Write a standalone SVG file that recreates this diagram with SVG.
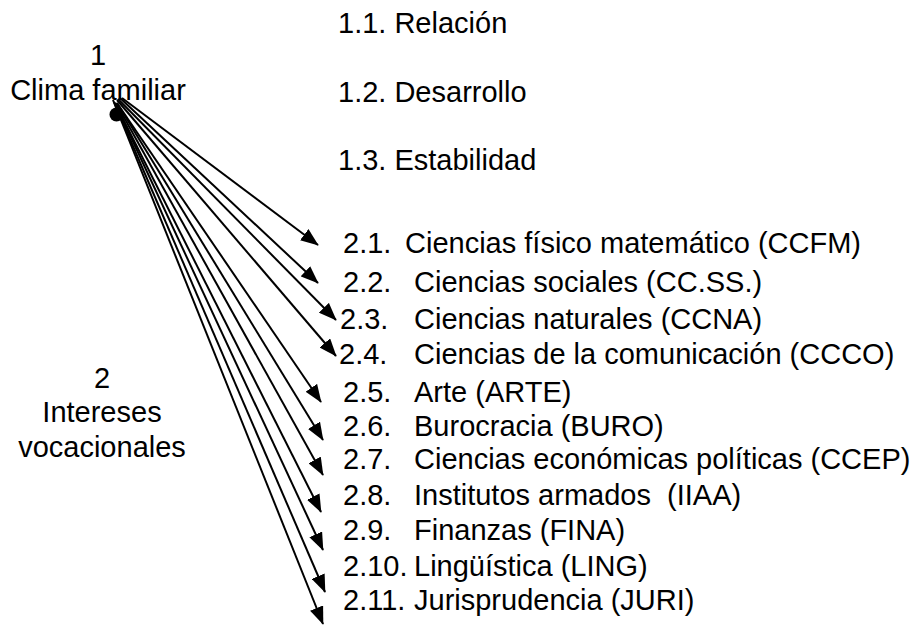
<svg xmlns="http://www.w3.org/2000/svg" width="923" height="626" viewBox="0 0 923 626">
<defs>
<style>
text{font-family:"Liberation Sans",Arial,sans-serif;font-size:29px;fill:#000;white-space:pre}
.c{text-anchor:middle}
.con line{stroke:#000;stroke-width:2;marker-end:url(#ah)}
</style>
<marker id="ah" viewBox="0 0 9 7" refX="8.6" refY="3.5" markerWidth="9" markerHeight="7" orient="auto" markerUnits="strokeWidth">
<path d="M0,0 L9,3.5 L0,7 z" fill="#000"/>
</marker>
</defs>
<rect width="923" height="626" fill="#fff"/>
<g id="n1">
<text class="c" x="98" y="65">1</text>
<text class="c" x="98" y="100">Clima familiar</text>
<circle cx="116.5" cy="114.5" r="7" fill="#000"/>
</g>
<g id="n2">
<text class="c" x="102" y="388">2</text>
<text class="c" x="102" y="422">Intereses</text>
<text class="c" x="102" y="457">vocacionales</text>
</g>
<g id="n1-1"><text x="338" y="33">1.1. Relación</text></g>
<g id="n1-2"><text x="338" y="102">1.2. Desarrollo</text></g>
<g id="n1-3"><text x="338" y="170">1.3. Estabilidad</text></g>
<g id="n2-1"><text x="343" y="253">2.1.</text><text x="405" y="253">Ciencias físico matemático (CCFM)</text></g>
<g id="n2-2"><text x="343" y="292">2.2.</text><text x="414" y="292">Ciencias sociales (CC.SS.)</text></g>
<g id="n2-3"><text x="340" y="329">2.3.</text><text x="414" y="329">Ciencias naturales (CCNA)</text></g>
<g id="n2-4"><text x="339" y="364">2.4.</text><text x="414" y="364">Ciencias de la comunicación (CCCO)</text></g>
<g id="n2-5"><text x="343" y="402">2.5.</text><text x="414" y="402">Arte (ARTE)</text></g>
<g id="n2-6"><text x="343" y="436">2.6.</text><text x="414" y="436">Burocracia (BURO)</text></g>
<g id="n2-7"><text x="343" y="469">2.7.</text><text x="414" y="469">Ciencias económicas políticas (CCEP)</text></g>
<g id="n2-8"><text x="343" y="505">2.8.</text><text x="414" y="505" xml:space="preserve">Institutos armados  (IIAA)</text></g>
<g id="n2-9"><text x="343" y="540">2.9.</text><text x="414" y="540">Finanzas (FINA)</text></g>
<g id="n2-10"><text x="343" y="576">2.10.</text><text x="414" y="576">Lingüística (LING)</text></g>
<g id="n2-11"><text x="343" y="610">2.11.</text><text x="414" y="610">Jurisprudencia (JURI)</text></g>
<g id="connectors" class="con">
<line x1="122" y1="98" x2="318" y2="245"/>
<line x1="120" y1="98" x2="318" y2="283"/>
<line x1="118" y1="99" x2="336" y2="320"/>
<line x1="117" y1="100" x2="336" y2="356"/>
<line x1="117" y1="103" x2="321" y2="402"/>
<line x1="117" y1="103" x2="323" y2="440"/>
<line x1="116" y1="103" x2="323" y2="475"/>
<line x1="115" y1="103" x2="321" y2="512"/>
<line x1="115" y1="103" x2="323" y2="550"/>
<line x1="114" y1="102" x2="325" y2="592"/>
<line x1="113" y1="100" x2="323" y2="624"/>
</g>
</svg>
